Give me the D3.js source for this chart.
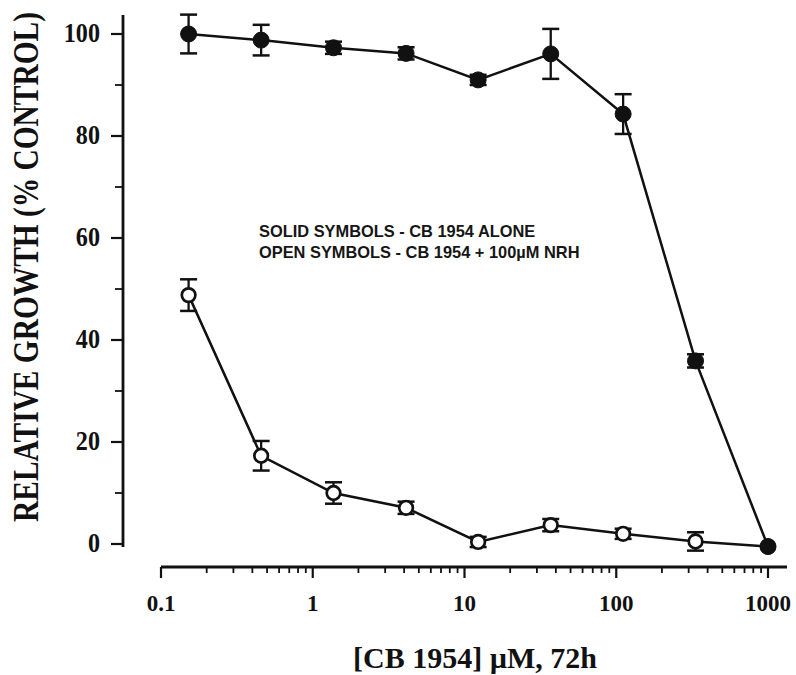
<!DOCTYPE html>
<html>
<head>
<meta charset="utf-8">
<script src="https://cdn.jsdelivr.net/npm/d3@7"></script>
<style>
  html, body { margin: 0; padding: 0; background: #fff; }
  svg { display: block; }
  .tick-label { font-family: "Liberation Serif", "Times New Roman", serif; font-weight: bold; font-size: 23px; fill: #111; }
  .axis-title { font-family: "Liberation Serif", "Times New Roman", serif; font-weight: bold; font-size: 30px; fill: #111; }
  .note { font-family: "Liberation Sans", Arial, sans-serif; font-weight: bold; font-size: 16.4px; fill: #161616; }
</style>
</head>
<body>
<div id="chart"></div>
<script>
// ---- data ----
// CB 1954 concentrations (uM), half-log (x3) dilution series
const concentrations = [0.152, 0.457, 1.37, 4.12, 12.3, 37.0, 111, 333, 1000];

// solid symbols: CB 1954 alone
const aloneMean = [100, 98.8, 97.3, 96.2, 91.0, 96.1, 84.3, 35.9, -0.5];
const aloneErr  = [3.8, 3.0, 1.2, 1.2, 1.0, 4.9, 3.9, 1.3, 0];

// open symbols: CB 1954 + 100uM NRH
const nrhMean = [48.8, 17.3, 10.0, 7.1, 0.4, 3.7, 2.0, 0.5, -0.5];
const nrhErr  = [3.1, 2.9, 2.1, 1.2, 1.0, 1.2, 1.0, 1.8, 0];

const yMajor = [0, 20, 40, 60, 80, 100];
const yMinor = [10, 30, 50, 70, 90];
const xMajor = [0.1, 1, 10, 100, 1000];
const xMajorLabels = ["0.1", "1", "10", "100", "1000"];

const notes = [
  "SOLID SYMBOLS - CB 1954 ALONE",
  "OPEN SYMBOLS - CB 1954 + 100\u00B5M NRH"
];

// ---- layout ----
const W = 796, H = 675;
const yAxisX = 123, xAxisY = 567;

const x = d3.scaleLog().domain([0.1, 1000]).range([161, 768]);
const y = d3.scaleLinear().domain([0, 100]).range([544, 34]);

const svg = d3.select("#chart").append("svg")
  .attr("width", W).attr("height", H);

svg.append("rect").attr("width", W).attr("height", H).attr("fill", "#fff");

// ---- y axis ----
const yAxisG = svg.append("g").attr("transform", `translate(${yAxisX},0)`);
yAxisG.append("line")
  .attr("x1", 0).attr("x2", 0).attr("y1", 15).attr("y2", 547)
  .attr("stroke", "#111").attr("stroke-width", 2.8);

yAxisG.selectAll(".ymaj").data(yMajor).join("line")
  .attr("x1", -12).attr("x2", 0)
  .attr("y1", d => y(d)).attr("y2", d => y(d))
  .attr("stroke", "#111").attr("stroke-width", 2.2);

yAxisG.selectAll(".ymin").data(yMinor).join("line")
  .attr("x1", -8).attr("x2", 0)
  .attr("y1", d => y(d)).attr("y2", d => y(d))
  .attr("stroke", "#111").attr("stroke-width", 1.8);

yAxisG.selectAll(".ylab").data(yMajor).join("text")
  .attr("class", "tick-label")
  .attr("text-anchor", "end")
  .attr("transform", d => `translate(-23,${y(d) + 8}) scale(1.05,1.15)`)
  .text(d => d);

// ---- x axis ----
const xAxisG = svg.append("g").attr("transform", `translate(0,${xAxisY})`);
xAxisG.append("line")
  .attr("x1", 161).attr("x2", 787).attr("y1", 0).attr("y2", 0)
  .attr("stroke", "#111").attr("stroke-width", 2.8);

const xMinor = [];
[0.1, 1, 10, 100].forEach(dec => {
  for (let k = 2; k <= 9; k++) xMinor.push(dec * k);
});

xAxisG.selectAll(".xmaj").data(xMajor).join("line")
  .attr("x1", d => x(d)).attr("x2", d => x(d))
  .attr("y1", 0).attr("y2", 11)
  .attr("stroke", "#111").attr("stroke-width", 2.2);

xAxisG.selectAll(".xmin").data(xMinor).join("line")
  .attr("x1", d => x(d)).attr("x2", d => x(d))
  .attr("y1", 0).attr("y2", 6)
  .attr("stroke", "#111").attr("stroke-width", 1.8);

xAxisG.selectAll(".xlab").data(xMajor).join("text")
  .attr("class", "tick-label")
  .attr("text-anchor", "middle")
  .attr("x", d => x(d))
  .attr("y", 44)
  .text((d, i) => xMajorLabels[i]);

// ---- axis titles ----
svg.append("text")
  .attr("class", "axis-title")
  .attr("text-anchor", "middle")
  .attr("x", 475).attr("y", 668)
  .text("[CB 1954] \u00B5M, 72h");

svg.append("text")
  .attr("class", "axis-title")
  .attr("text-anchor", "middle")
  .attr("transform", "translate(38,267) rotate(-90) scale(0.98,1.2)")
  .text("RELATIVE GROWTH (% CONTROL)");

// ---- notes ----
svg.selectAll(".note").data(notes).join("text")
  .attr("class", "note")
  .attr("x", 259)
  .attr("y", (d, i) => 237 + i * 21)
  .text(d => d);

// ---- series ----
function drawSeries(means, errs, filled, radius) {
  const pts = concentrations.map((c, i) => ({ c, m: means[i], e: errs[i] }));
  const line = d3.line().x(d => x(d.c)).y(d => y(d.m));
  const g = svg.append("g");

  g.append("path").datum(pts)
    .attr("d", line)
    .attr("fill", "none")
    .attr("stroke", "#111")
    .attr("stroke-width", 2.5);

  const eb = g.selectAll(".err").data(pts.filter(d => d.e > 0)).join("g");
  eb.append("line")
    .attr("x1", d => x(d.c)).attr("x2", d => x(d.c))
    .attr("y1", d => y(d.m - d.e)).attr("y2", d => y(d.m + d.e))
    .attr("stroke", "#111").attr("stroke-width", 2.3);
  eb.append("line")
    .attr("x1", d => x(d.c) - 8.5).attr("x2", d => x(d.c) + 8.5)
    .attr("y1", d => y(d.m + d.e)).attr("y2", d => y(d.m + d.e))
    .attr("stroke", "#111").attr("stroke-width", 2.5);
  eb.append("line")
    .attr("x1", d => x(d.c) - 8.5).attr("x2", d => x(d.c) + 8.5)
    .attr("y1", d => y(d.m - d.e)).attr("y2", d => y(d.m - d.e))
    .attr("stroke", "#111").attr("stroke-width", 2.5);

  return g.selectAll(".pt").data(pts).join("circle")
    .attr("cx", d => x(d.c)).attr("cy", d => y(d.m))
    .attr("r", radius)
    .attr("fill", filled ? "#111" : "#fff")
    .attr("stroke", "#111")
    .attr("stroke-width", filled ? 1 : 2.7);
}

// open series first so the shared point at 1000 uM ends up solid
drawSeries(nrhMean, nrhErr, false, 6.8);
drawSeries(aloneMean, aloneErr, true, 8);
</script>
</body>
</html>
